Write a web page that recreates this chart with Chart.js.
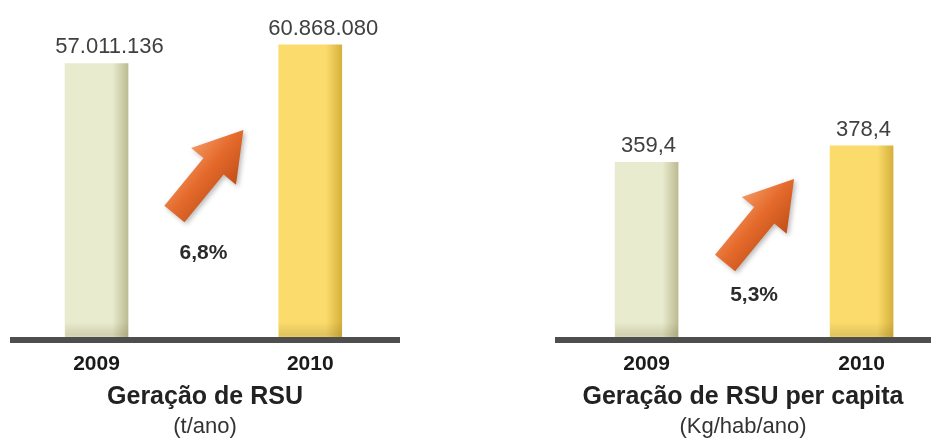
<!DOCTYPE html>
<html lang="pt-BR">
  <head>
    <meta charset="UTF-8" />
    <meta name="viewport" content="width=device-width, initial-scale=1.0" />
    <script src="https://cdn.jsdelivr.net/npm/chart.js"></script>
    <title>Geração de RSU</title>
    <style>
      body {
        margin: 0;
        background: #ffffff;
        width: 931px;
        height: 442px;
        overflow: hidden;
        position: relative;
      }
      .graph {
        position: absolute;
        top: 0;
        height: 442px;
      }
      #graphTotal {
        left: 10px;
        width: 390px;
      }
      #graphPerCapita {
        left: 555px;
        width: 376px;
      }
    </style>
  </head>
  <body>
    <div class="graph" id="graphTotal"><canvas id="chartTotal"></canvas></div>
    <div class="graph" id="graphPerCapita"><canvas id="chartPerCapita"></canvas></div>
  </body>
</html>
<script>
  // dados
  var anos = ["2009", "2010"];
  var geracaoTotal = [57011136, 60868080];       // t/ano
  var geracaoPerCapita = [359.4, 378.4];         // kg/hab/ano

  var fonte = "'Liberation Sans', Arial, sans-serif";
  Chart.defaults.font.family = fonte;

  var corBarra = ["#e9ebce", "#fbdb6c"];
  var corBorda = ["#bcbb92", "#d6b03b"];

  function formatarInteiro(v) {
    return String(v).replace(/\B(?=(\d{3})+(?!\d))/g, ".");
  }

  function formatarDecimal(v) {
    return v.toFixed(1).replace(".", ",");
  }

  function formatarCrescimento(valores) {
    var pct = (valores[1] / valores[0] - 1) * 100;
    return pct.toFixed(1).replace(".", ",") + "%";
  }

  // gradiente horizontal da barra (lado direito mais escuro)
  function corDaBarra(context) {
    var chart = context.chart;
    var i = context.dataIndex;
    if (!chart.chartArea) return corBarra[i];
    var x = chart.scales.x.getPixelForValue(Number(anos[i]));
    var g = chart.ctx.createLinearGradient(x - 31.5, 0, x + 31.5, 0);
    g.addColorStop(0, corBarra[i]);
    g.addColorStop(0.75, corBarra[i]);
    g.addColorStop(1, corBorda[i]);
    return g;
  }

  function desenharSeta(ctx, x0, y0, x1, y1) {
    var dx = x1 - x0, dy = y1 - y0;
    var len = Math.sqrt(dx * dx + dy * dy);
    var ux = dx / len, uy = dy / len;
    var nx = -uy, ny = ux;
    var haste = 13, cabeca = 29, compCabeca = 47;
    var bx = x1 - ux * compCabeca, by = y1 - uy * compCabeca;
    var mx = (x0 + x1) / 2, my = (y0 + y1) / 2;

    var g = ctx.createLinearGradient(mx - nx * cabeca, my - ny * cabeca, mx + nx * cabeca, my + ny * cabeca);
    g.addColorStop(0, "#f39560");
    g.addColorStop(0.45, "#e56b2c");
    g.addColorStop(1, "#c24f18");

    ctx.save();
    ctx.shadowColor = "rgba(0,0,0,0.28)";
    ctx.shadowBlur = 5;
    ctx.shadowOffsetX = 2;
    ctx.shadowOffsetY = 2;
    ctx.beginPath();
    ctx.moveTo(x0 + nx * haste, y0 + ny * haste);
    ctx.lineTo(bx + nx * haste, by + ny * haste);
    ctx.lineTo(bx + nx * cabeca, by + ny * cabeca);
    ctx.lineTo(x1, y1);
    ctx.lineTo(bx - nx * cabeca, by - ny * cabeca);
    ctx.lineTo(bx - nx * haste, by - ny * haste);
    ctx.lineTo(x0 - nx * haste, y0 - ny * haste);
    ctx.closePath();
    ctx.fillStyle = g;
    ctx.fill();
    ctx.restore();
  }

  // rótulos de valor, sombra na base das barras, seta e percentual
  var pluginRotulos = {
    id: "rotulos",
    afterDatasetsDraw: function (chart, args, opts) {
      var ctx = chart.ctx;
      var meta = chart.getDatasetMeta(0);
      var base = chart.chartArea.bottom;
      var valores = chart.data.datasets[0].data;

      ctx.save();
      meta.data.forEach(function (bar, i) {
        var sombra = ctx.createLinearGradient(0, base - 18, 0, base);
        sombra.addColorStop(0, "rgba(90,80,30,0)");
        sombra.addColorStop(0.7, "rgba(90,80,30,0.16)");
        sombra.addColorStop(1, "rgba(90,80,30,0.05)");
        ctx.fillStyle = sombra;
        ctx.fillRect(bar.x - bar.width / 2, base - 18, bar.width, 18);

        ctx.fillStyle = "#404040";
        ctx.font = "22px " + fonte;
        ctx.textAlign = "center";
        ctx.textBaseline = "alphabetic";
        ctx.fillText(opts.formato(valores[i]), bar.x + opts.dxValor, bar.y - 10);
      });

      var meio = (meta.data[0].x + meta.data[1].x) / 2;
      var yCauda = base + opts.caudaY;
      desenharSeta(ctx, meio - 29, yCauda, meio + 40, yCauda - 84);

      ctx.fillStyle = "#2b2b2b";
      ctx.font = "bold 21px " + fonte;
      ctx.textAlign = "center";
      ctx.textBaseline = "middle";
      ctx.fillText(formatarCrescimento(valores), meio, yCauda + opts.pctY);
      ctx.restore();
    },
  };

  function criarGrafico(idCanvas, valores, titulo, unidade, yMin, yMax, xMin, xMax, rotulos) {
    var config = {
      type: "bar",
      data: {
        labels: anos,
        datasets: [
          {
            data: valores,
            backgroundColor: corDaBarra,
            borderWidth: 0,
            barThickness: 63,
          },
        ],
      },
      options: {
        responsive: true,
        maintainAspectRatio: false,
        animation: false,
        layout: { padding: 0 },
        scales: {
          x: {
            type: "linear",
            offset: false,
            min: xMin,
            max: xMax,
            afterBuildTicks: function (scale) {
              scale.ticks = anos.map(function (a) {
                return { value: Number(a) };
              });
            },
            afterFit: function (scale) {
              scale.height = 72;
            },
            grid: { display: false, drawTicks: false },
            border: { display: true, color: "#4e4e4e", width: 6, z: 1 },
            ticks: {
              padding: 12,
              maxRotation: 0,
              autoSkip: false,
              color: "#1a1a1a",
              font: { size: 21, weight: "bold" },
              callback: function (v) {
                return String(v);
              },
            },
            title: {
              display: true,
              text: titulo,
              color: "#222222",
              font: { size: 25, weight: "bold" },
              padding: { top: 0, bottom: 0 },
            },
          },
          y: {
            display: false,
            min: yMin,
            max: yMax,
          },
        },
        plugins: {
          legend: { display: false },
          tooltip: { enabled: false },
          title: {
            display: true,
            position: "bottom",
            text: unidade,
            color: "#333333",
            font: { size: 22, weight: "normal" },
            padding: { top: 1.8, bottom: 1.8 },
          },
          rotulos: rotulos,
        },
      },
      plugins: [pluginRotulos],
    };
    return new Chart(document.getElementById(idCanvas), config);
  }

  criarGrafico("chartTotal", geracaoTotal, "Geração de RSU", "(t/ano)",
    0, 70100000, 2008.595, 2010.42,
    { formato: formatarInteiro, dxValor: 13, caudaY: -126, pctY: 39 });

  criarGrafico("chartPerCapita", geracaoPerCapita, "Geração de RSU per capita", "(Kg/hab/ano)",
    155, 546, 2008.574, 2010.323,
    { formato: formatarDecimal, dxValor: 2, caudaY: -77, pctY: 32 });
</script>
